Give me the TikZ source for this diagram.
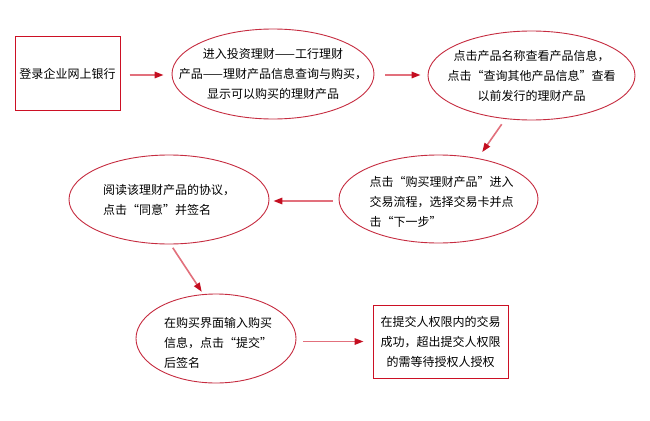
\documentclass[tikz,border=0pt]{standalone}
\usepackage{fontspec}
\newfontfamily\cjk{Noto Sans CJK SC}
\usetikzlibrary{shapes.geometric,arrows.meta}
\definecolor{boxred}{RGB}{204,16,36}
\definecolor{ellred}{RGB}{198,44,64}
\definecolor{shaftred}{RGB}{226,112,124}
\definecolor{tipred}{RGB}{196,14,32}
\tikzset{
  txt/.style={font=\cjk\fontsize{12}{20}\selectfont, text=black},
  rbox/.style={draw=boxred, line width=1pt, rectangle, inner sep=0pt, txt, align=center},
  rell/.style={draw=ellred, line width=0.9pt, ellipse, inner sep=0pt},
  lab/.style={txt},
  arr/.style={draw=shaftred, line width=1.6pt, -{Triangle[length=9pt,width=6.5pt,color=tipred]}}
}
\begin{document}
\begin{tikzpicture}[x=1pt,y=-1pt]
\useasboundingbox (0,0) rectangle (650,420);
\fill[white] (0,0) rectangle (650,420);

\node[rbox, minimum width=105pt, minimum height=73pt] (b1) at (67.5,73.5) {登录企业网上银行};

\node[rell, minimum width=202pt, minimum height=90pt,
  label={[lab,align=center]center:进入投资理财——工行理财\\产品——理财产品信息查询与购买，\\显示可以购买的理财产品}] (e1) at (273,74) {};

\node[rell, minimum width=207pt, minimum height=89pt,
  label={[lab,align=center]center:点击产品名称查看产品信息，\\点击“查询其他产品信息”查看\\以前发行的理财产品}] (e2) at (531.5,75.5) {};

\node[rell, minimum width=199pt, minimum height=88pt,
  label={[lab,align=left,xshift=3pt,yshift=-3pt]center:点击“购买理财产品”进入\\交易流程，选择交易卡并点\\击“下一步”}] (e3) at (438.5,199) {};

\node[rell, minimum width=200pt, minimum height=89pt,
  label={[lab,align=left]center:阅读该理财产品的协议，\\点击“同意”并签名}] (e4) at (169,199.5) {};

\node[rell, minimum width=160pt, minimum height=89pt,
  label={[lab,align=left,xshift=2pt,yshift=-4pt]center:在购买界面输入购买\\信息，点击“提交”\\后签名}] (e5) at (216,338.5) {};

\node[rbox, minimum width=135pt, minimum height=73pt] (b2) at (440.5,341.5) {在提交人权限内的交易\\成功，超出提交人权限\\的需等待授权人授权};

\draw[arr, shorten <=9pt, shorten >=8pt] ([yshift=-1.5pt]b1.east) -- ([yshift=-1.5pt]b1.east -| e1.west);
\draw[arr, shorten <=11pt, shorten >=7pt] ([yshift=-1pt]e1.east) -- ([yshift=-1pt]e1.east -| e2.west);
\draw[arr, shorten <=6.4pt, shorten >=7.5pt] (e2.239) -- (e3.46.6);
\draw[arr, shorten <=6pt, shorten >=4pt] ([yshift=-2pt]e3.west) -- ([yshift=-2pt]e3.west -| e4.east);
\draw[arr, shorten <=4pt, shorten >=2.8pt] (e4.272) -- (e5.106.8);
\draw[arr, shorten <=7pt, shorten >=9pt] (e5.east |- b2.west) -- (b2.west);
\end{tikzpicture}
\end{document}
